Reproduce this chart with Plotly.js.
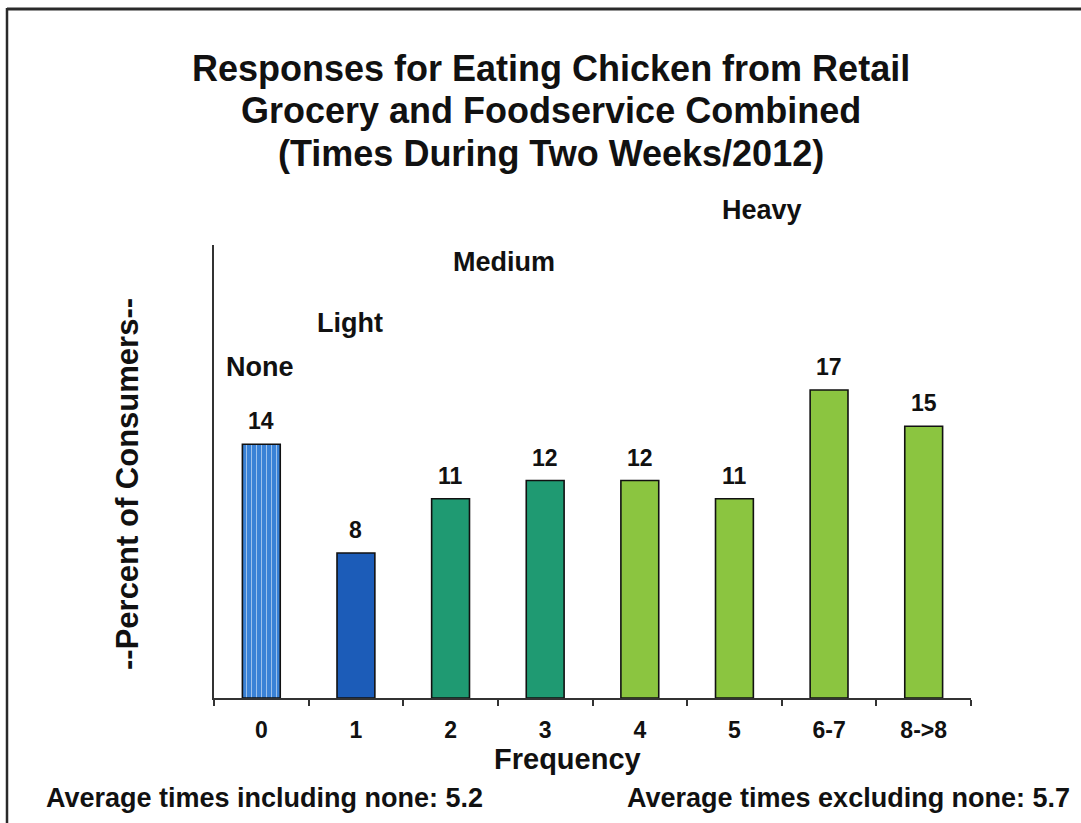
<!DOCTYPE html>
<html>
<head>
<meta charset="utf-8">
<script src="https://cdn.plot.ly/plotly-3.0.1.min.js"></script>
<style>
  html, body { margin: 0; padding: 0; background: #fff; }
  #chart { width: 1081px; height: 823px; }
</style>
</head>
<body>
<div id="chart"></div>
<script>
// Frequency categories (times eaten in two weeks) and percent of consumers
const categories = ['0', '1', '2', '3', '4', '5', '6-7', '8->8'];
const percents = [14, 8, 11, 12, 12, 11, 17, 15];
const barColors = ['#3a82d6', '#1c5cb8', '#1f9a72', '#1f9a72', '#8bc540', '#8bc540', '#8bc540', '#8bc540'];
const barPatterns = ['|', '', '', '', '', '', '', ''];

// Title lines, consumer group labels and summary notes
const titleLines = [
  'Responses for Eating Chicken from Retail',
  'Grocery and Foodservice Combined',
  '(Times During Two Weeks/2012)'
];
const groupLabels = ['None', 'Light', 'Medium', 'Heavy'];
const averageNotes = ['Average times including none: 5.2', 'Average times excluding none: 5.7'];

const FONT = '"Liberation Sans", Arial, Helvetica, sans-serif';
const W = 1081, H = 823;
const M = { l: 214, r: 110, t: 245, b: 125 };
const PW = W - M.l - M.r, PH = H - M.t - M.b;

// convert page pixels to paper coordinates
const px = x => (x - M.l) / PW;
const py = y => (H - M.b - y) / PH;

const boldFont = size => ({ family: FONT, size: size, color: '#111', weight: 'bold' });

const trace = {
  type: 'bar',
  x: categories,
  y: percents,
  width: 0.4,
  marker: {
    color: barColors,
    line: { color: '#111', width: 1.6 },
    pattern: {
      shape: barPatterns, fillmode: 'overlay',
      fgcolor: '#7fb6ee', fgopacity: 0.5, size: 5, solidity: 0.2
    }
  },
  hoverinfo: 'x+y'
};

const annotations = [];

// three-line chart title
const titleY = [68, 110, 153];
titleLines.forEach((t, i) => {
  annotations.push({
    x: px(551), y: py(titleY[i]), xref: 'paper', yref: 'paper',
    text: t, showarrow: false, xanchor: 'center', yanchor: 'middle',
    font: boldFont(36)
  });
});

// value labels above each bar
categories.forEach((c, i) => {
  annotations.push({
    x: c, y: percents[i], xref: 'x', yref: 'y',
    text: String(percents[i]), showarrow: false,
    yanchor: 'bottom', yshift: 8,
    font: boldFont(23)
  });
});

// group labels placed over the bars
const groupPos = [[260, 367], [350, 323], [504, 262], [762, 210]];
groupLabels.forEach((t, i) => {
  annotations.push({
    x: px(groupPos[i][0]), y: py(groupPos[i][1]), xref: 'paper', yref: 'paper',
    text: t, showarrow: false, xanchor: 'center', yanchor: 'middle',
    font: boldFont(27)
  });
});

// axis titles
annotations.push({
  x: px(567), y: py(759), xref: 'paper', yref: 'paper',
  text: 'Frequency', showarrow: false, xanchor: 'center', yanchor: 'middle',
  font: boldFont(29)
});
annotations.push({
  x: px(127), y: py(484), xref: 'paper', yref: 'paper',
  text: '--Percent of Consumers--', showarrow: false, textangle: -90,
  xanchor: 'center', yanchor: 'middle',
  font: boldFont(31)
});

// summary notes along the bottom
annotations.push({
  x: px(44), y: py(798), xref: 'paper', yref: 'paper',
  text: averageNotes[0], showarrow: false, xanchor: 'left', yanchor: 'middle',
  font: boldFont(27)
});
annotations.push({
  x: px(1072), y: py(798), xref: 'paper', yref: 'paper',
  text: averageNotes[1], showarrow: false, xanchor: 'right', yanchor: 'middle',
  font: boldFont(27)
});

// slide frame (top and left edges)
const shapes = [
  { type: 'line', xref: 'paper', yref: 'paper', x0: px(7), x1: px(1085), y0: py(9), y1: py(9),
    line: { color: '#2a2a2a', width: 3 } },
  { type: 'line', xref: 'paper', yref: 'paper', x0: px(7), x1: px(7), y0: py(8), y1: py(830),
    line: { color: '#2a2a2a', width: 2.5 } }
];

const layout = {
  width: W, height: H,
  margin: M,
  paper_bgcolor: '#ffffff',
  plot_bgcolor: '#ffffff',
  showlegend: false,
  font: { family: FONT, color: '#111' },
  xaxis: {
    type: 'category',
    range: [-0.5, 7.5],
    showline: true, linecolor: '#333', linewidth: 2,
    ticks: 'outside', tickson: 'boundaries', ticklen: 6, tickcolor: '#333', tickwidth: 2,
    showgrid: false, zeroline: false,
    ticklabelstandoff: 10,
    tickfont: boldFont(23)
  },
  yaxis: {
    range: [0, 25],
    showline: true, linecolor: '#333', linewidth: 2,
    showticklabels: false, ticks: '',
    showgrid: false, zeroline: false
  },
  annotations: annotations,
  shapes: shapes
};

Plotly.newPlot('chart', [trace], layout, { displayModeBar: false, staticPlot: true });
</script>
</body>
</html>
